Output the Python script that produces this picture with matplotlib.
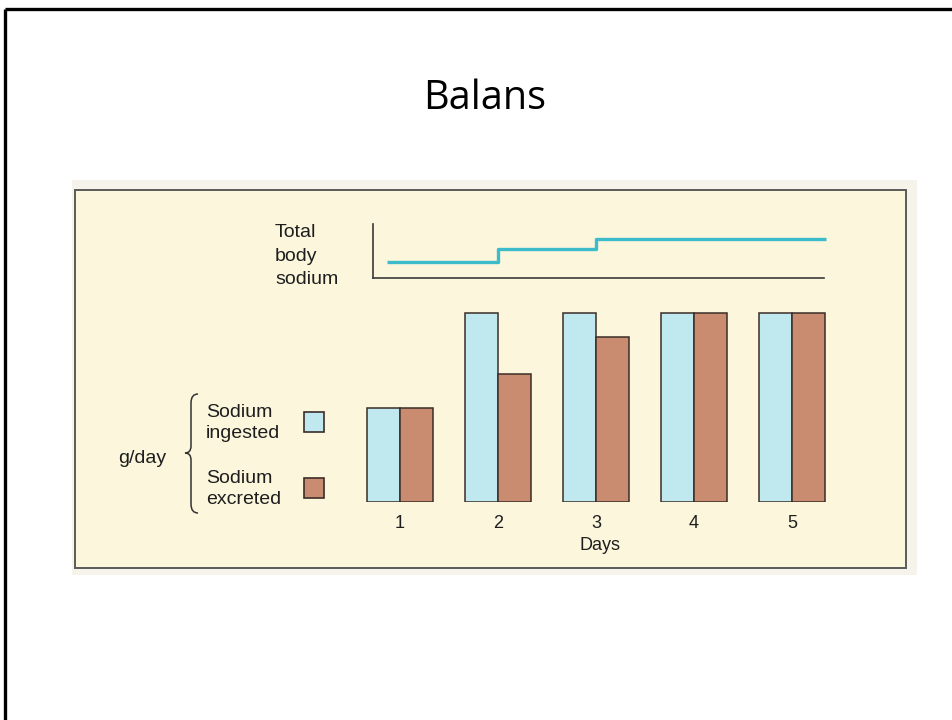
import matplotlib
matplotlib.use("Agg")
import matplotlib.pyplot as plt
from matplotlib.patches import Rectangle, PathPatch
from matplotlib.path import Path

# ---------------- data ----------------
days = [1, 2, 3, 4, 5]
day_labels = ["1", "2", "3", "4", "5"]
sodium_ingested = [1.0, 2.0, 2.0, 2.0, 2.0]      # g/day (relative)
sodium_excreted = [1.0, 1.35, 1.75, 2.0, 2.0]    # g/day (relative)
body_days = [0.87, 2.0, 3.0, 5.35]               # step edges of total body sodium trace
body_sodium = [16, 29, 39, 39]                   # relative total body sodium

title = "Balans"
series_labels = [("Sodium", "ingested"), ("Sodium", "excreted")]

# ---------------- style ----------------
W, H = 953, 720
CREAM = "#fbf6dc"
OUTER = "#f6f4ea"
CYAN_BAR = "#bfe9ef"
BROWN_BAR = "#c98c70"
LINE_CYAN = "#3cbccb"
EDGE = "#3b2d28"
AXC = "#3a3a3a"
TXT = "#1e1e1e"

fig = plt.figure(figsize=(W / 100, H / 100), dpi=100)
fig.patch.set_facecolor("white")


def frac_box(x0, y0, x1, y1):
    """pixel box (y from top) -> figure fraction [l, b, w, h]"""
    return [x0 / W, (H - y1) / H, (x1 - x0) / W, (y1 - y0) / H]


# canvas for decorations in pixel coordinates
cv = fig.add_axes([0, 0, 1, 1], zorder=0)
cv.set_xlim(0, W)
cv.set_ylim(H, 0)
cv.axis("off")

# slide frame (top and left)
cv.plot([5.5, W], [8.5, 8.5], color="black", lw=2.4, solid_capstyle="butt")
cv.plot([5.5, 5.5], [8.5, H], color="black", lw=2.4, solid_capstyle="butt")

# title
cv.text(485, 109, title, ha="center", va="baseline", fontsize=28.5,
        family=["Open Sans", "DejaVu Sans"], color="black")

# picture panel
cv.add_patch(Rectangle((72, 180), 845, 395, facecolor=OUTER, edgecolor="none"))
cv.add_patch(Rectangle((75.5, 189.5), 830.5, 378, facecolor=CREAM,
                       edgecolor="#5a5a5a", lw=1.4))

tf = dict(family=["Liberation Sans", "DejaVu Sans"], color=TXT, fontsize=14,
          va="baseline", ha="left")

# "Total body sodium" label
for txt, yb in zip(["Total", "body", "sodium"], [237, 261, 284]):
    cv.text(275, yb, txt, **tf)

# g/day label and brace
cv.text(118, 463, "g/day", **tf)
verts = [(198, 394), (191, 394), (191, 403),
         (191, 446),
         (191, 453), (185, 453),
         (191, 453), (191, 460),
         (191, 504),
         (191, 513), (198, 513)]
codes = [Path.MOVETO, Path.CURVE3, Path.CURVE3,
         Path.LINETO,
         Path.CURVE3, Path.CURVE3,
         Path.CURVE3, Path.CURVE3,
         Path.LINETO,
         Path.CURVE3, Path.CURVE3]
cv.add_patch(PathPatch(Path(verts, codes), facecolor="none", edgecolor="#333333", lw=1.1))

# legend entries
for (l1, l2), yb, col in zip(series_labels, [417, 483], [CYAN_BAR, BROWN_BAR]):
    cv.text(206, yb, l1, **tf)
    cv.text(206, yb + 21, l2, **tf)
    cv.add_patch(Rectangle((304, yb - 5), 20, 20, facecolor=col,
                           edgecolor=EDGE, lw=1.2))

# ---------------- bar chart ----------------
px_per_day = 98.0
day1_px = 400.0
bx0, bx1, by0, by1 = 350, 850, 302, 502
unit_px = 94.5
ax = fig.add_axes(frac_box(bx0, by0, bx1, by1), zorder=2)
ax.set_facecolor("none")
ax.set_xlim(1 - (day1_px - bx0) / px_per_day, 1 + (bx1 - day1_px) / px_per_day)
ax.set_ylim(0, (by1 - by0) / unit_px)
bw = 33 / px_per_day
ax.bar(days, sodium_ingested, width=-bw, align="edge", color=CYAN_BAR,
       edgecolor=EDGE, linewidth=1.1)
ax.bar(days, sodium_excreted, width=bw, align="edge", color=BROWN_BAR,
       edgecolor=EDGE, linewidth=1.1)
for s in ax.spines.values():
    s.set_visible(False)
ax.set_yticks([])
ax.set_xticks(days)
ax.set_xticklabels(day_labels, family=["Liberation Sans", "DejaVu Sans"],
                   fontsize=13, color=TXT)
ax.tick_params(axis="x", length=0, pad=9)
ax.set_xlabel("Days", family=["Liberation Sans", "DejaVu Sans"], fontsize=13,
              color=TXT, labelpad=4)

# ---------------- total body sodium trace ----------------
tx0, tx1, ty0, ty1 = 372.7, 826, 224, 278
ax2 = fig.add_axes(frac_box(tx0, ty0, tx1, ty1), zorder=2)
ax2.set_facecolor("none")
ax2.set_xlim(1 + (tx0 - day1_px) / px_per_day, 1 + (tx1 - day1_px) / px_per_day)
ax2.set_ylim(0, ty1 - ty0)
ax2.plot(body_days, body_sodium, drawstyle="steps-post", color=LINE_CYAN,
         lw=2.4, solid_capstyle="butt", clip_on=False)
ax2.spines["top"].set_visible(False)
ax2.spines["right"].set_visible(False)
ax2.spines["left"].set_color(AXC)
ax2.spines["bottom"].set_color(AXC)
ax2.spines["left"].set_linewidth(1.2)
ax2.spines["bottom"].set_linewidth(1.2)
ax2.spines["bottom"].set_bounds(ax2.get_xlim()[0], 1 + (824 - day1_px) / px_per_day)
ax2.set_xticks([])
ax2.set_yticks([])

fig.savefig("out.png", dpi=100, facecolor="white")
